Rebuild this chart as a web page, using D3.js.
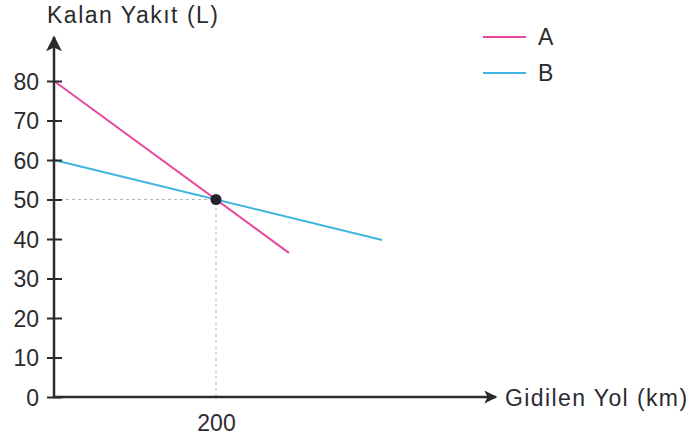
<!DOCTYPE html>
<html>
<head>
<meta charset="utf-8">
<script src="https://cdn.jsdelivr.net/npm/d3@7"></script>
<style>
    body { margin: 0; background: #fff; }
    text { font-family: "Liberation Sans", Arial, sans-serif; fill: #2b2b2f; }
</style>
</head>
<body>
<div id="chart"></div>
<script>
// Kalan yakit vs gidilen yol, two vehicles
const seriesNames = ["A", "B"];
const seriesA = [{km: 0, fuel: 80}, {km: 290, fuel: 36.5}];
const seriesB = [{km: 0, fuel: 60}, {km: 405, fuel: 39.75}];
const meetPoint = {km: 200, fuel: 50};
const yTicks = [0, 10, 20, 30, 40, 50, 60, 70, 80];
const xTicks = [200];

const W = 691, H = 441;
const FONT = "'Liberation Sans', Arial, sans-serif";
const COLOURS = {
    AXIS: "#2b2b2f",
    A: "#e8479b",
    B: "#3db5e0",
    GUIDE: "#b5b5b5",
    DOT: "#23232b"
};

const svg = d3.select("#chart").append("svg")
    .attr("width", W)
    .attr("height", H);

// scales: origin at (54,397), 10 L = 39.5px, 200 km = 162px
const x = d3.scaleLinear().domain([0, 200]).range([54, 216]);
const y = d3.scaleLinear().domain([0, 80]).range([397, 81]);

// dashed guides to the meeting point
svg.append("line")
    .attr("x1", x(0)).attr("x2", x(meetPoint.km))
    .attr("y1", y(meetPoint.fuel)).attr("y2", y(meetPoint.fuel))
    .attr("stroke", COLOURS.GUIDE).attr("stroke-width", 1)
    .attr("stroke-dasharray", "3,3");
svg.append("line")
    .attr("x1", x(meetPoint.km)).attr("x2", x(meetPoint.km))
    .attr("y1", y(0)).attr("y2", y(meetPoint.fuel))
    .attr("stroke", COLOURS.GUIDE).attr("stroke-width", 1)
    .attr("stroke-dasharray", "3,3");

// lines
const line = d3.line().x(d => x(d.km)).y(d => y(d.fuel));
svg.append("path").datum(seriesB)
    .attr("fill", "none").attr("stroke", COLOURS.B).attr("stroke-width", 2)
    .attr("d", line);
svg.append("path").datum(seriesA)
    .attr("fill", "none").attr("stroke", COLOURS.A).attr("stroke-width", 2)
    .attr("d", line);

// arrow markers (y one is a bit bigger than x one)
const defs = svg.append("defs");
[{id: "arrowY", size: 16}, {id: "arrowX", size: 13}].forEach(m => {
    defs.append("marker")
        .attr("id", m.id)
        .attr("viewBox", "0 0 10 10")
        .attr("refX", 9).attr("refY", 5)
        .attr("markerWidth", m.size).attr("markerHeight", m.size)
        .attr("markerUnits", "userSpaceOnUse")
        .attr("orient", "auto")
        .append("path")
        .attr("d", "M0,0 L10,5 L0,10 L2.5,5 Z")
        .attr("fill", COLOURS.AXIS);
});

// y axis
const yAxis = d3.axisLeft(y).tickValues(yTicks).tickSize(0).tickPadding(0);
const gy = svg.append("g").attr("transform", `translate(${x(0)},0)`).call(yAxis);
gy.select(".domain").remove();
gy.selectAll(".tick line").remove();
gy.selectAll(".tick").append("line")
    .attr("x1", -7).attr("x2", 8)
    .attr("stroke", COLOURS.AXIS).attr("stroke-width", 2);
gy.selectAll(".tick text")
    .attr("x", -15)
    .attr("dy", "0.36em")
    .style("font-size", "23px")
    .style("font-family", FONT)
    .attr("fill", COLOURS.AXIS);

svg.append("line")
    .attr("x1", x(0)).attr("x2", x(0))
    .attr("y1", y(0) + 1).attr("y2", 37)
    .attr("stroke", COLOURS.AXIS).attr("stroke-width", 2.5)
    .attr("marker-end", "url(#arrowY)");

// x axis
const xAxis = d3.axisBottom(x).tickValues(xTicks).tickSize(0).tickPadding(0);
const gx = svg.append("g").attr("transform", `translate(0,${y(0)})`).call(xAxis);
gx.select(".domain").remove();
gx.selectAll(".tick text")
    .attr("y", 34)
    .attr("dy", 0)
    .style("font-size", "23px")
    .style("font-family", FONT)
    .attr("fill", COLOURS.AXIS);

svg.append("line")
    .attr("x1", x(0) - 1).attr("x2", 496)
    .attr("y1", y(0)).attr("y2", y(0))
    .attr("stroke", COLOURS.AXIS).attr("stroke-width", 2.5)
    .attr("marker-end", "url(#arrowX)");

// meeting point
svg.append("circle")
    .attr("cx", x(meetPoint.km)).attr("cy", y(meetPoint.fuel))
    .attr("r", 5.5).attr("fill", COLOURS.DOT);

// axis titles
svg.append("text")
    .attr("x", 47).attr("y", 23)
    .style("font-size", "23px")
    .style("letter-spacing", "1.5px")
    .text("Kalan Yakıt (L)");
svg.append("text")
    .attr("x", 505).attr("y", 406)
    .style("font-size", "23px")
    .style("letter-spacing", "1.4px")
    .text("Gidilen Yol (km)");

// legend
const legend = svg.append("g").selectAll("g")
    .data(seriesNames)
    .enter().append("g")
    .attr("transform", (d, i) => `translate(483,${37 + i * 36})`);
legend.append("line")
    .attr("x1", 0).attr("x2", 43)
    .attr("stroke", d => COLOURS[d]).attr("stroke-width", 2);
legend.append("text")
    .attr("x", 55).attr("dy", "0.36em")
    .style("font-size", "23px")
    .text(d => d);
</script>
</body>
</html>
